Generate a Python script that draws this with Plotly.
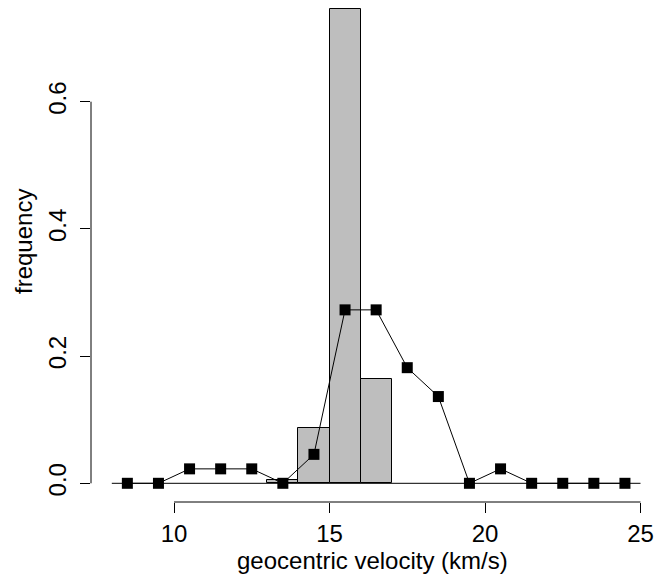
import plotly.graph_objects as go

# Histogram (density) bars
bar_centers = [13.5, 14.5, 15.5, 16.5]
bar_heights = [0.005, 0.087, 0.746, 0.164]
bar_width = 1.0

# Frequency polygon points
point_x = [8.5, 9.5, 10.5, 11.5, 12.5, 13.5, 14.5, 15.5, 16.5, 17.5,
           18.5, 19.5, 20.5, 21.5, 22.5, 23.5, 24.5]
point_y = [0.0, 0.0, 0.0227, 0.0227, 0.0227, 0.0, 0.0455, 0.2727, 0.2727,
           0.1818, 0.1364, 0.0, 0.0227, 0.0, 0.0, 0.0, 0.0]

x_ticks = [10, 15, 20, 25]
y_ticks = [0.0, 0.2, 0.4, 0.6]
y_tick_text = ["0.0", "0.2", "0.4", "0.6"]
baseline_x = [8, 25]

FONT = "Liberation Sans, Arial, Helvetica, sans-serif"
FS = 24

fig = go.Figure()
fig.add_trace(go.Bar(
    x=bar_centers, y=bar_heights, width=bar_width,
    marker=dict(color="#BEBEBE", line=dict(color="black", width=1)),
    showlegend=False, hoverinfo="skip",
))
fig.add_trace(go.Scatter(
    x=baseline_x, y=[0, 0], mode="lines",
    line=dict(color="black", width=1), showlegend=False, hoverinfo="skip",
))
fig.add_trace(go.Scatter(
    x=point_x, y=point_y, mode="lines+markers",
    line=dict(color="black", width=1),
    marker=dict(symbol="square", size=11, color="black"),
    showlegend=False,
))

fig.update_layout(
    width=654, height=574,
    margin=dict(l=91, r=0, t=0, b=72),
    plot_bgcolor="white", paper_bgcolor="white",
    font=dict(family=FONT, size=FS, color="black"),
    bargap=0,
    xaxis=dict(
        range=[7.331, 25.434], tickvals=x_ticks, ticktext=[str(v) for v in x_ticks],
        ticks="outside", ticklen=10, tickwidth=1, tickcolor="black",
        showline=False, showgrid=False, zeroline=False,
        tickfont=dict(size=FS), ticklabelstandoff=0,
    ),
    yaxis=dict(
        range=[-0.0294, 0.7599], tickvals=y_ticks, ticktext=y_tick_text,
        ticks="outside", ticklen=10, tickwidth=1, tickcolor="black",
        showline=False, showgrid=False, zeroline=False,
        tickangle=-90, tickfont=dict(size=FS), ticklabelstandoff=4,
    ),
    shapes=[
        dict(type="line", xref="x", yref="paper", x0=x_ticks[0], x1=x_ticks[-1],
             y0=0, y1=0, line=dict(color="black", width=1)),
        dict(type="line", xref="paper", yref="y", x0=0, x1=0,
             y0=y_ticks[0], y1=y_ticks[-1], line=dict(color="black", width=1)),
    ],
    annotations=[
        dict(text="geocentric velocity (km/s)", xref="paper", yref="paper",
             x=0.5, y=0, xanchor="center", yanchor="middle", yshift=-58,
             showarrow=False, font=dict(size=FS)),
        dict(text="frequency", xref="paper", yref="paper",
             x=0, y=0.5, xanchor="center", yanchor="middle", xshift=-68,
             yshift=9, textangle=-90, showarrow=False, font=dict(size=FS)),
    ],
)

fig.write_html("out.html")
